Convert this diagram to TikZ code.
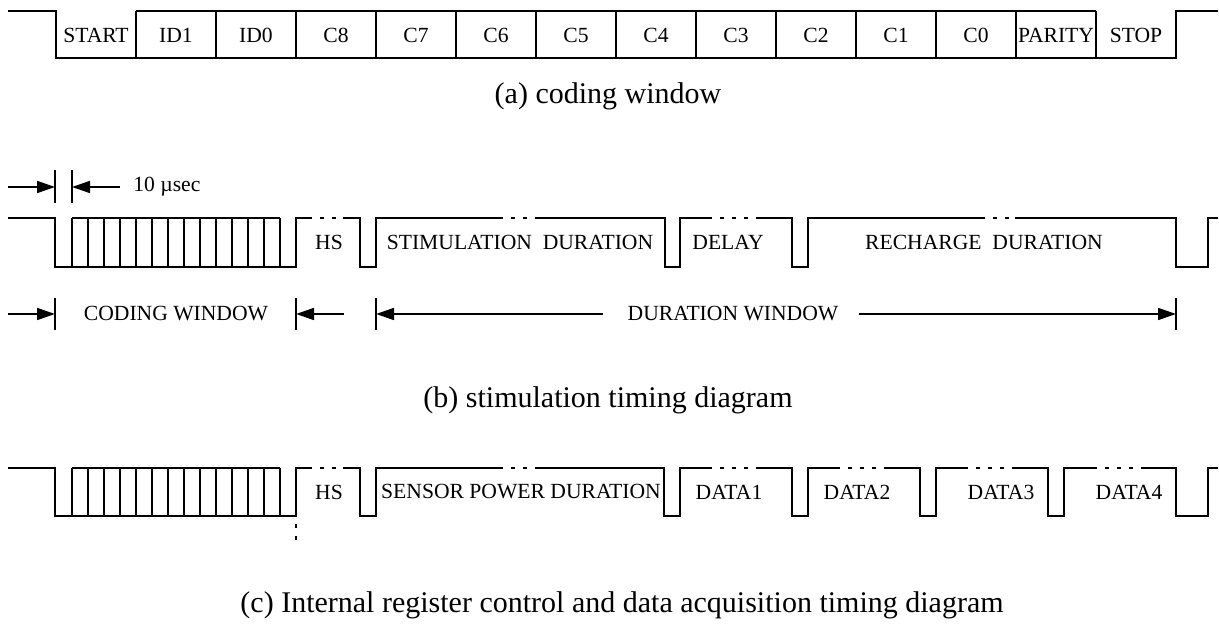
\documentclass[tikz,border=0pt]{standalone}
\usepackage{fontspec}
\setmainfont{Liberation Serif}
\usetikzlibrary{arrows.meta}
\tikzset{
  wave/.style={line width=0.85pt,line join=miter},
  wavedots/.style={line width=0.85pt,dash pattern=on 1.8pt off 4.2pt,dash phase=1.8pt},
  tickbar/.style={line width=0.85pt},
  dimarrow/.style={-{Triangle[length=9pt,width=6pt]},line width=0.85pt},
  celltext/.style={font=\fontsize{10.8}{13}\selectfont,inner sep=0pt},
  captext/.style={font=\fontsize{15}{18}\selectfont,inner sep=0pt}
}
% coding burst: start pulse and 13 bit cells (args: top, bottom)
\newcommand{\codeburst}[2]{%
  \draw[wave] (8,#1) -- (55,#1) -- (55,#2) -- (296,#2) -- (296,#1) -- (312,#1);
  \draw[wave] (72,#1) -- (280,#1);
  \foreach \x in {72,88,...,280} \draw[wave] (\x,#1) -- (\x,#2);
}

\begin{document}
\begin{tikzpicture}[x=0.5pt,y=-0.5pt]
  \useasboundingbox (0,0) rectangle (1219,624);

  % (a) coding window
  \draw[wave] (8,11) -- (56,11) -- (56,58) -- (1176,58) -- (1176,11) -- (1218,11);
  \draw[wave] (136,11) -- (1096,11);
  \foreach \x in {136,216,...,1096} \draw[wave] (\x,11) -- (\x,58);
  \foreach \t [count=\i from 0] in {START,ID1,ID0,C8,C7,C6,C5,C4,C3,C2,C1,C0,PARITY,STOP}
    \node[celltext] (bit\i) at (96+80*\i,35) {\t};
  \node[captext] (capa) at (608,96) {(a) coding window};

  % (b) stimulation timing
  \coordinate (usL) at (55,187);
  \coordinate (usR) at (72,187);
  \coordinate (usA) at (8,187);
  \coordinate (usB) at (120,187);
  \draw[tickbar] (55,170) -- (55,203);
  \draw[tickbar] (72,170) -- (72,203);
  \draw[dimarrow] (usA) -- (usL);
  \draw[dimarrow] (usB) -- (usR);
  \node[celltext,anchor=west] (us) at (133,187) {10 µsec};

  \codeburst{218}{267}
  \draw[wavedots] (312,218) -- (343,218);
  \draw[wave] (343,218) -- (360,218) -- (360,267) -- (376,267) -- (376,218) -- (503,218);
  \draw[wavedots] (503,218) -- (537,218);
  \draw[wave] (537,218) -- (665,218) -- (665,267) -- (680,267) -- (680,218) -- (712,218);
  \draw[wavedots] (712,218) -- (760,218);
  \draw[wave] (760,218) -- (792,218) -- (792,267) -- (808,267) -- (808,218) -- (985,218);
  \draw[wavedots] (985,218) -- (1015,218);
  \draw[wave] (1015,218) -- (1176,218) -- (1176,267) -- (1208,267) -- (1208,218) -- (1218,218);
  \node[celltext] (hsb) at (329,242) {HS};
  \node[celltext] (stim) at (520,242) {STIMULATION\ \ DURATION};
  \node[celltext] (delay) at (728,242) {DELAY};
  \node[celltext] (rech) at (984,242) {RECHARGE\ \ DURATION};

  \foreach \x in {55,296,376,1176} \draw[tickbar] (\x,298) -- (\x,330);
  \coordinate (cwA) at (8,314);
  \coordinate (cwL) at (55,314);
  \coordinate (cwB) at (344,314);
  \coordinate (cwR) at (296,314);
  \coordinate (dwL) at (376,314);
  \coordinate (dwA) at (603,314);
  \coordinate (dwB) at (859,314);
  \coordinate (dwR) at (1176,314);
  \draw[dimarrow] (cwA) -- (cwL);
  \draw[dimarrow] (cwB) -- (cwR);
  \draw[dimarrow] (dwA) -- (dwL);
  \draw[dimarrow] (dwB) -- (dwR);
  \node[celltext] (cw) at (176,314) {CODING WINDOW};
  \node[celltext] (dw) at (733,314) {DURATION WINDOW};
  \node[captext] (capb) at (608,400) {(b) stimulation timing diagram};

  % (c) register control and data acquisition
  \codeburst{468}{516}
  \draw[wavedots] (296,516) -- (296,548);
  \draw[wavedots] (312,468) -- (343,468);
  \draw[wave] (343,468) -- (360,468) -- (360,516) -- (376,516) -- (376,468) -- (503,468);
  \draw[wavedots] (503,468) -- (535,468);
  \draw[wave] (535,468) -- (664,468) -- (664,516) -- (680,516) -- (680,468) -- (712,468);
  \draw[wavedots] (712,468) -- (760,468);
  \draw[wave] (760,468) -- (792,468) -- (792,516) -- (808,516) -- (808,468) -- (840,468);
  \draw[wavedots] (840,468) -- (888,468);
  \draw[wave] (888,468) -- (920,468) -- (920,516) -- (936,516) -- (936,468) -- (968,468);
  \draw[wavedots] (968,468) -- (1016,468);
  \draw[wave] (1016,468) -- (1048,468) -- (1048,516) -- (1064,516) -- (1064,468) -- (1097,468);
  \draw[wavedots] (1097,468) -- (1144,468);
  \draw[wave] (1144,468) -- (1176,468) -- (1176,516) -- (1208,516) -- (1208,468) -- (1218,468);
  \node[celltext] (hsc) at (329,492) {HS};
  \node[celltext] (spow) at (521,492) {SENSOR POWER DURATION};
  \node[celltext] (dat1) at (729,492) {DATA1};
  \node[celltext] (dat2) at (857,492) {DATA2};
  \node[celltext] (dat3) at (1001,492) {DATA3};
  \node[celltext] (dat4) at (1129,492) {DATA4};
  \node[captext] (capc) at (622,605) {(c) Internal register control and data acquisition timing diagram};
\end{tikzpicture}
\end{document}
